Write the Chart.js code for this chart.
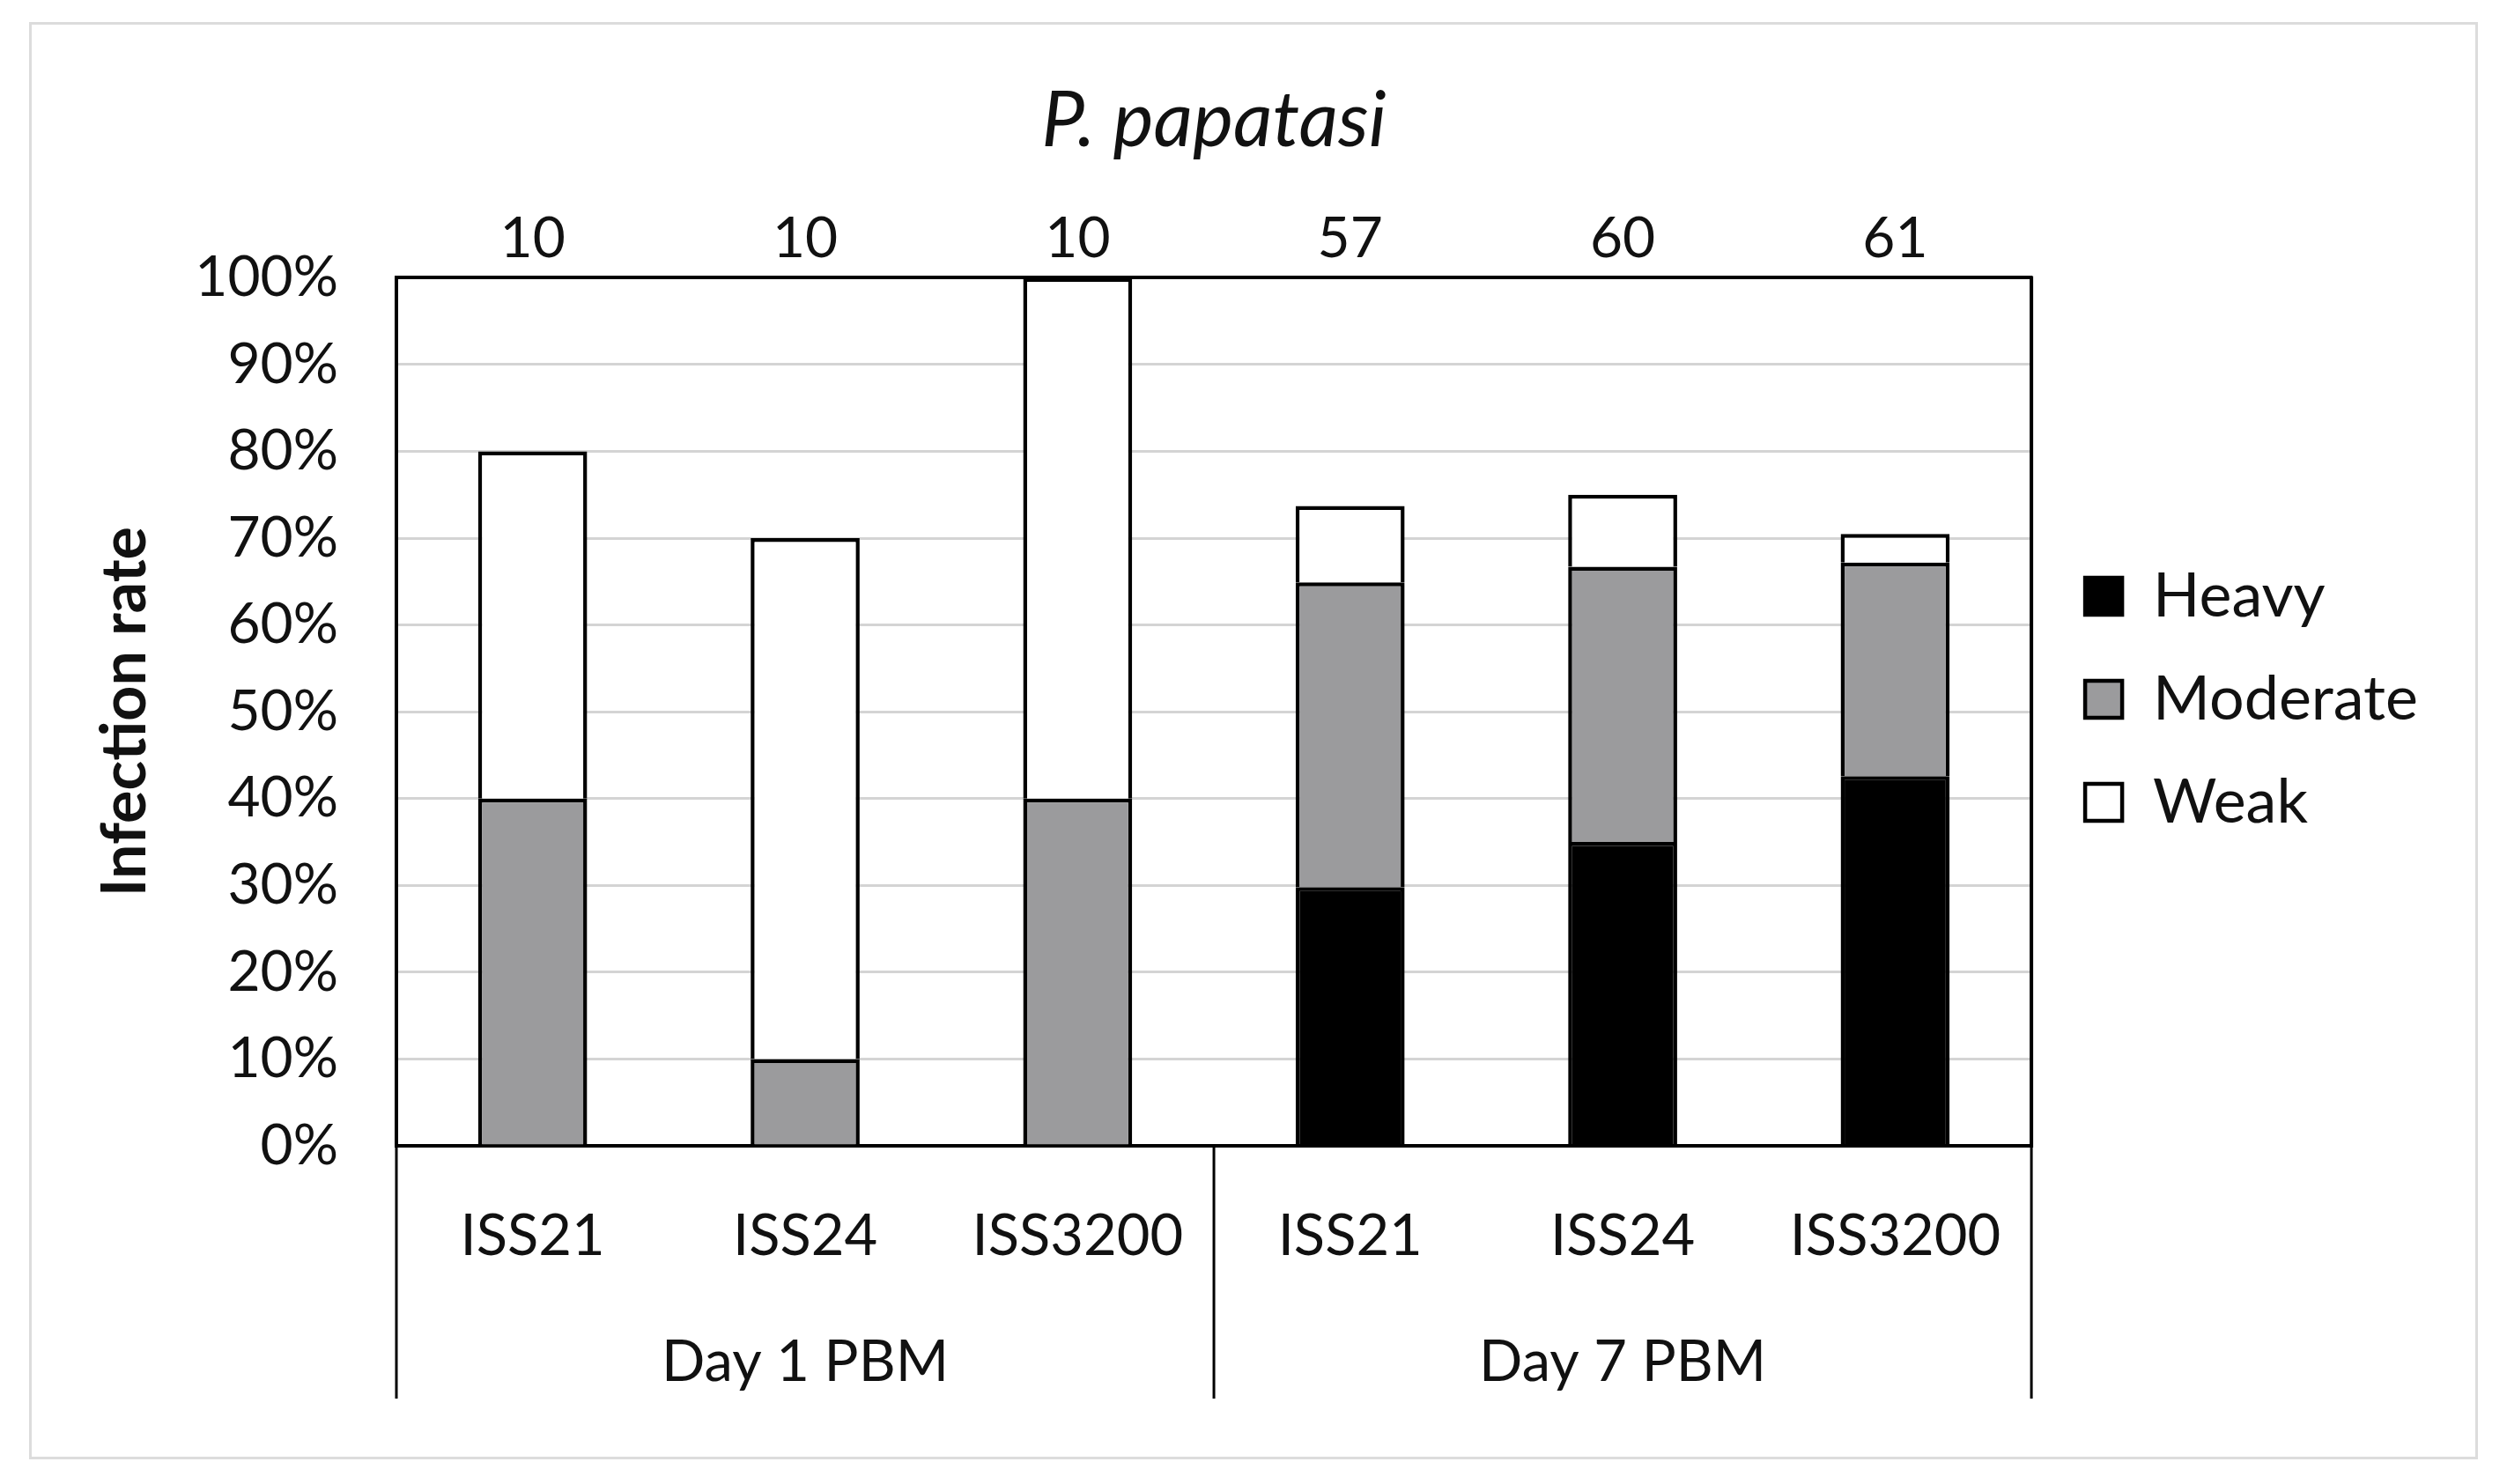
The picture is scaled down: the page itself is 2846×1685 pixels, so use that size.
<!DOCTYPE html>
<html>
<head>
<meta charset="utf-8">
<script src="https://cdn.jsdelivr.net/npm/chart.js@4.4.0/dist/chart.umd.min.js"></script>
<style>
  html, body { margin: 0; padding: 0; background: #fff; }
  #wrap { position: relative; width: 2846px; height: 1685px; }
  #frame { position: absolute; left: 33px; top: 25px; width: 2780px; height: 1632px; border: 3px solid #dcdcdc; box-sizing: border-box; }
  #chart { position: absolute; left: 0; top: 0; }
</style>
</head>
<body>
<div id="wrap">
  <div id="frame"></div>
  <canvas id="chart" width="2846" height="1685"></canvas>
</div>
<script>
  // categories and group labels
  const categories = ['ISS21', 'ISS24', 'ISS3200', 'ISS21', 'ISS24', 'ISS3200'];
  const groups = ['', 'Day 1 PBM', '', '', 'Day 7 PBM', ''];
  const sampleSizes = ['10', '10', '10', '57', '60', '61'];

  // infection rate (%) per intensity
  const heavy = [0, 0, 0, 29.8, 35.0, 42.6];
  const moderate = [40, 10, 40, 35.1, 31.7, 24.6];
  const weak = [40, 60, 60, 8.8, 8.3, 3.3];

  const FONT = 'Lato, "Open Sans", sans-serif';
  const ink = '#111';

  // group separators below the plot + right border of plot
  const separators = {
    id: 'separators',
    afterLayout(chart) {
      // push the legend a bit away from the plot, like the original
      chart.legend.left += 14;
      chart.legend.right += 14;
    },
    afterDraw(chart) {
      const { ctx, chartArea, scales: { x, xg } } = chart;
      const half = (x.getPixelForTick(1) - x.getPixelForTick(0)) / 2;
      const edges = [x.getPixelForTick(0) - half, x.getPixelForTick(2) + half, x.getPixelForTick(5) + half];
      ctx.save();
      ctx.strokeStyle = '#000';
      ctx.lineWidth = 3;
      edges.forEach(px => {
        ctx.beginPath(); ctx.moveTo(px, chartArea.bottom); ctx.lineTo(px, xg.bottom); ctx.stroke();
      });
      ctx.lineWidth = 4;
      ctx.beginPath(); ctx.moveTo(chartArea.right, chartArea.top - 2); ctx.lineTo(chartArea.right, chartArea.bottom + 2); ctx.stroke();
      ctx.restore();
    }
  };

  const barStyle = { borderColor: '#000', borderWidth: 4.5, barPercentage: 0.4, categoryPercentage: 1 };

  new Chart(document.getElementById('chart'), {
    type: 'bar',
    data: {
      labels: categories,
      datasets: [
        { label: 'Heavy', data: heavy, backgroundColor: '#000', ...barStyle },
        { label: 'Moderate', data: moderate, backgroundColor: '#9b9b9d', ...barStyle },
        { label: 'Weak', data: weak, backgroundColor: '#fff', ...barStyle }
      ]
    },
    plugins: [separators],
    options: {
      responsive: false, animation: false, devicePixelRatio: 1,
      layout: { padding: { left: 0, right: 105, top: 0, bottom: 97 } },
      plugins: {
        title: {
          display: true, fullSize: false, text: 'P. papatasi', color: ink,
          font: { family: FONT, size: 87, style: 'italic', weight: 'normal' },
          padding: { top: 86, bottom: 0 }
        },
        legend: {
          position: 'right',
          labels: { color: ink, font: { family: FONT, size: 70 }, boxWidth: 42, boxHeight: 42, padding: 47 }
        },
        tooltip: { enabled: false }
      },
      scales: {
        x: {
          stacked: true, position: 'bottom', weight: 0, offset: true,
          grid: { display: false },
          border: { display: true, color: '#000', width: 4 },
          ticks: { color: ink, font: { family: FONT, size: 65 }, padding: 56, maxRotation: 0, autoSkip: false },
          afterFit: s => { s.height = 169; }
        },
        xg: {
          type: 'category', labels: groups, position: 'bottom', weight: 1, offset: true,
          grid: { display: false }, border: { display: false },
          ticks: { color: ink, font: { family: FONT, size: 65 }, padding: 30, maxRotation: 0, autoSkip: false },
          afterFit: s => { s.height = 118; }
        },
        xt: {
          type: 'category', labels: sampleSizes, position: 'top', offset: true,
          grid: { display: false },
          border: { display: true, color: '#000', width: 4 },
          ticks: { color: ink, font: { family: FONT, size: 64 }, padding: -2, maxRotation: 0, autoSkip: false },
          afterFit: s => { s.height = 125; }
        },
        y: {
          stacked: true, min: 0, max: 100,
          grid: { color: '#d4d4d4', lineWidth: 3, drawTicks: false },
          border: { display: true, color: '#000', width: 4 },
          ticks: { stepSize: 10, color: ink, font: { family: FONT, size: 64 }, padding: 66, callback: v => v + '%' },
          title: { display: true, text: 'Infection rate', color: ink, font: { family: FONT, size: 70, weight: 'bold' }, padding: { top: 100, bottom: 0 } },
          afterFit: s => { s.width = 450; }
        }
      }
    }
  });
</script>
</body>
</html>
